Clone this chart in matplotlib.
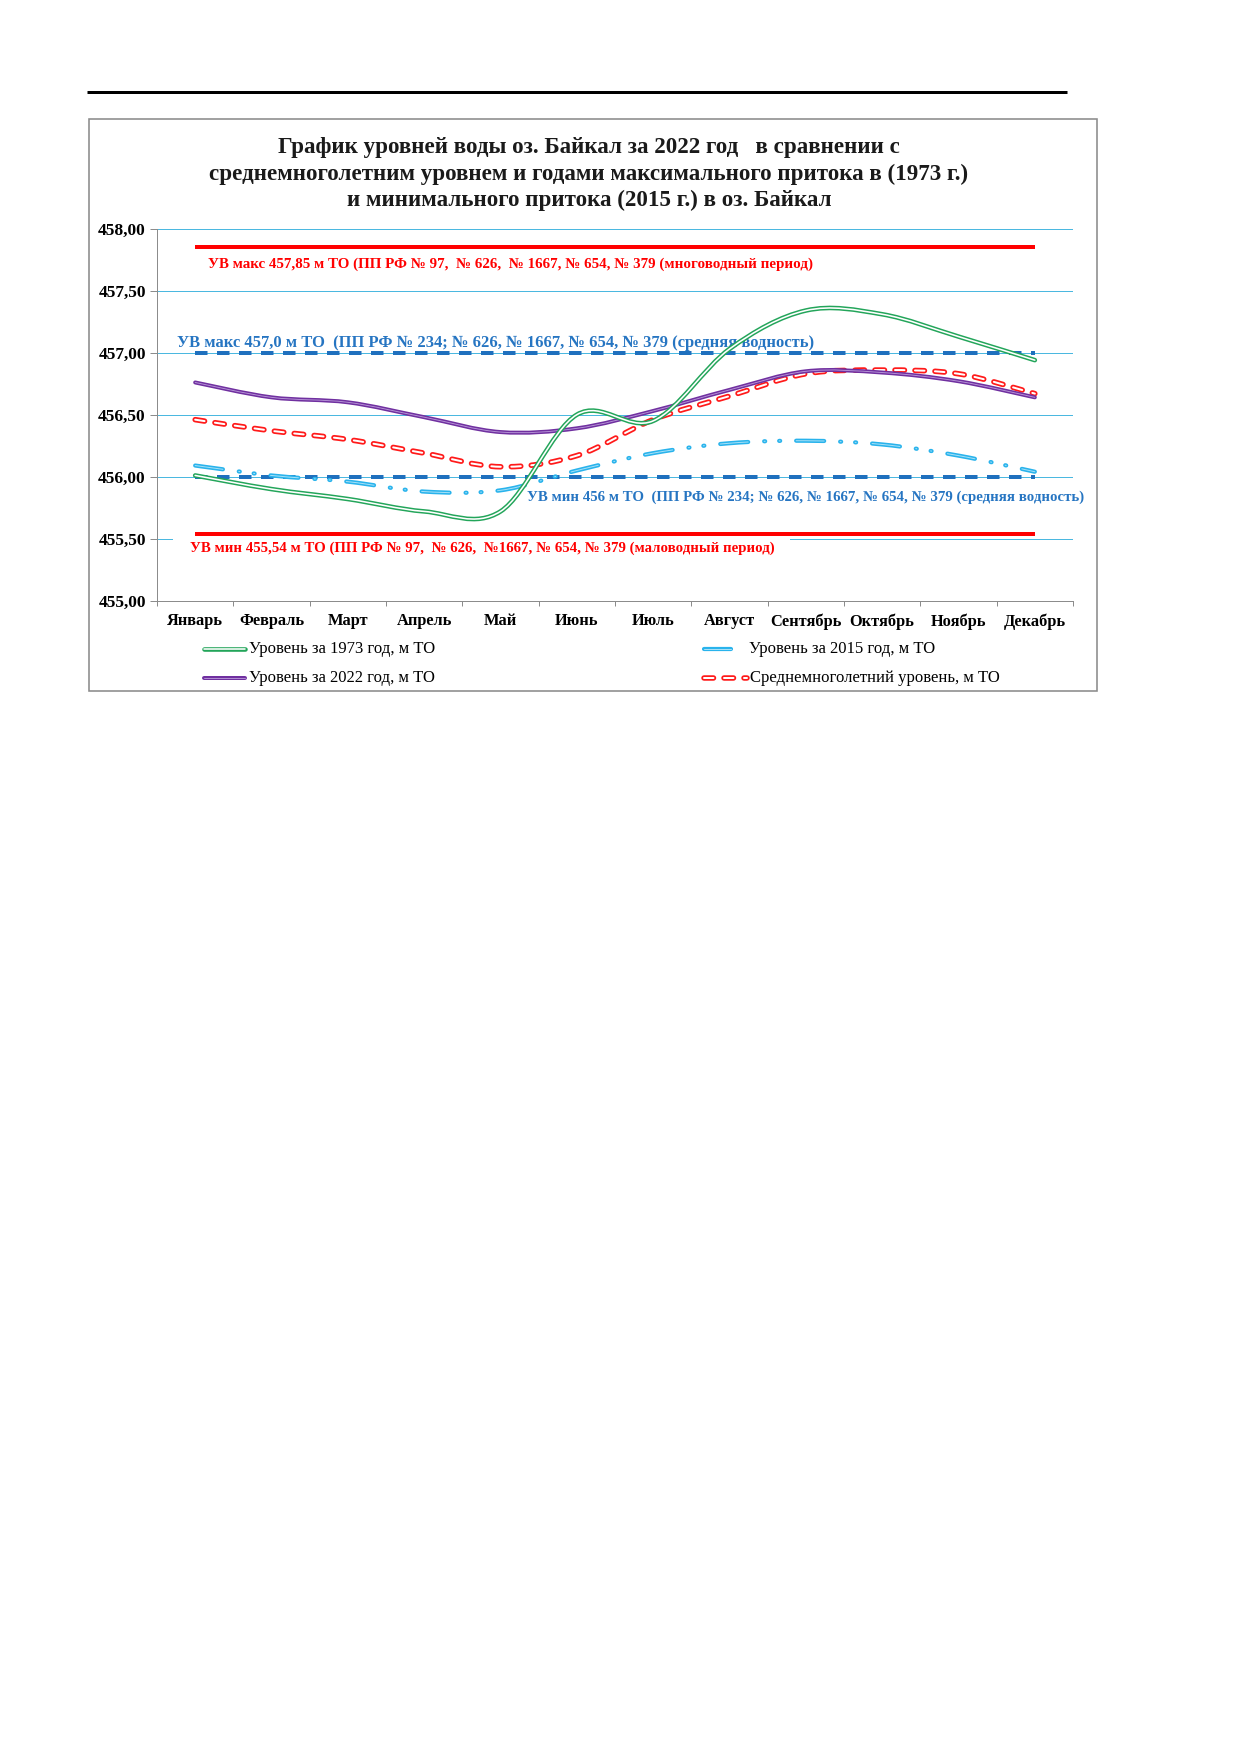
import numpy as np
import matplotlib
matplotlib.use("Agg")
import matplotlib.pyplot as plt
from matplotlib.path import Path
from matplotlib.patches import PathPatch, Rectangle
from matplotlib.lines import Line2D
from matplotlib.ticker import FuncFormatter, MultipleLocator, FixedLocator

plt.rcParams["font.family"] = ["Liberation Serif", "DejaVu Serif"]
plt.rcParams["lines.scale_dashes"] = False

# ---------------- data ----------------
months = ["Январь", "Февраль", "Март", "Апрель", "Май", "Июнь", "Июль",
          "Август", "Сентябрь", "Октябрь", "Ноябрь", "Декабрь"]
lvl_1973 = [456.01, 455.90, 455.82, 455.72, 455.72, 456.50, 456.45,
            457.03, 457.34, 457.31, 457.13, 456.94]
lvl_2015 = [456.09, 456.01, 455.96, 455.88, 455.89, 456.05, 456.19,
            456.27, 456.29, 456.26, 456.17, 456.04]
lvl_2022 = [456.76, 456.64, 456.60, 456.48, 456.36, 456.39, 456.53,
            456.70, 456.85, 456.84, 456.77, 456.64]
lvl_avg = [456.46, 456.37, 456.30, 456.19, 456.08, 456.17, 456.46,
           456.65, 456.83, 456.86, 456.83, 456.67]

uv_max_high = 457.85   # многоводный период
uv_max_mid = 457.0     # средняя водность
uv_min_mid = 456.0
uv_min_low = 455.54    # маловодный период

title = ("График уровней воды оз. Байкал за 2022 год   в сравнении с\n"
         "среднемноголетним уровнем и годами максимального притока в (1973 г.)\n"
         "и минимального притока (2015 г.) в оз. Байкал")
lab_max_high = "УВ макс 457,85 м ТО (ПП РФ № 97,  № 626,  № 1667, № 654, № 379 (многоводный период)"
lab_max_mid = "УВ макс 457,0 м ТО  (ПП РФ № 234; № 626, № 1667, № 654, № 379 (средняя водность)"
lab_min_mid = "УВ мин 456 м ТО  (ПП РФ № 234; № 626, № 1667, № 654, № 379 (средняя водность)"
lab_min_low = "УВ мин 455,54 м ТО (ПП РФ № 97,  № 626,  №1667, № 654, № 379 (маловодный период)"
leg_1973 = "Уровень за 1973 год, м ТО"
leg_2015 = "Уровень за 2015 год, м ТО"
leg_2022 = "Уровень за 2022 год, м ТО"
leg_avg = "Среднемноголетний уровень, м ТО"

# ---------------- styles ----------------
PX = 0.72  # points per pixel at dpi 100
green = '#23A55A'
purple = '#7030A0'
red = '#FF0000'
cyan = '#29B3EC'
dblue = '#1F70BE'
tblue = '#2675C2'
grid_c = '#4BB8E0'
axis_c = '#8C8C8C'

dash_avg = (0, (9.5 * PX, 10.5 * PX))
dash_2015 = (0, (28 * PX, 16 * PX, 1 * PX, 14 * PX, 1 * PX, 16 * PX))
dash_ref = (0, (12.5 * PX, 9.5 * PX))


def smooth_path(xs, ys):
    # excel-like smoothed line: cubic bezier segments through the points
    n = len(xs)
    verts = [(xs[0], ys[0])]
    codes = [Path.MOVETO]
    for i in range(n - 1):
        x0, y0 = xs[i], ys[i]
        x1, y1 = xs[i + 1], ys[i + 1]
        xm, ym = (xs[i - 1], ys[i - 1]) if i > 0 else (x0, y0)
        xp, yp = (xs[i + 2], ys[i + 2]) if i + 2 < n else (x1, y1)
        verts += [(x0 + (x1 - xm) / 6., y0 + (y1 - ym) / 6.),
                  (x1 - (xp - x0) / 6., y1 - (yp - y0) / 6.),
                  (x1, y1)]
        codes += [Path.CURVE4] * 3
    return Path(verts, codes)


def add_curve(ax, ys, color, lw, ls='solid', inner=None, inner_lw=0, z=4):
    path = smooth_path(np.arange(len(ys), dtype=float), np.asarray(ys, float))
    p = PathPatch(path, fill=False, edgecolor=color, lw=lw * PX,
                  linestyle=ls, capstyle='round', joinstyle='round', zorder=z)
    ax.add_patch(p)
    if inner is not None:
        q = PathPatch(path, fill=False, edgecolor=inner, lw=inner_lw * PX,
                      linestyle=ls, capstyle='round', joinstyle='round', zorder=z + 0.1)
        ax.add_patch(q)


fig = plt.figure(figsize=(12.4, 17.54), dpi=100)

# overlay in pixel coords for page decorations
ov = fig.add_axes([0, 0, 1, 1])
ov.set_xlim(0, 1240)
ov.set_ylim(1754, 0)
ov.axis('off')

ov.plot([87, 1067], [91.5, 91.5], color='black', lw=3 * PX, solid_capstyle='butt')
ov.add_patch(Rectangle((89, 119), 1008, 572, fill=False, edgecolor=axis_c, lw=1.6 * PX))
ov.text(589, 137, title, ha='center', va='top', fontsize=16.6, fontweight='bold',
        linespacing=1.33, color='#1a1a1a')

# ---------------- main axes ----------------
L, R, T, B = 157, 1073, 228.7, 600.7
ax = fig.add_axes([L / 1240, 1 - B / 1754, (R - L) / 1240, (B - T) / 1754])
ax.patch.set_alpha(0)
ax.set_xlim(-0.5, 11.5)
ax.set_ylim(455, 458)
ax.set_axisbelow(True)
ax.yaxis.set_major_locator(MultipleLocator(0.5))
ax.yaxis.set_major_formatter(FuncFormatter(lambda v, p: ("%.2f" % v).replace('.', ',')))
ax.grid(axis='y', color=grid_c, lw=1.0 * PX)
ax.set_xticks(range(12))
ax.set_xticklabels(months)
ax.xaxis.set_minor_locator(FixedLocator(np.arange(-0.5, 12, 1)))
ax.tick_params(axis='x', which='major', length=0, pad=9, labelsize=11.8)
ax.tick_params(axis='x', which='minor', length=5 * PX, width=1 * PX, color=axis_c)
ax.tick_params(axis='y', length=7 * PX, width=1 * PX, color=axis_c, pad=3, labelsize=12.5)
for lab in ax.get_xticklabels() + ax.get_yticklabels():
    lab.set_fontweight('bold')
for s in ['top', 'right']:
    ax.spines[s].set_visible(False)
for s in ['left', 'bottom']:
    ax.spines[s].set_color(axis_c)
    ax.spines[s].set_linewidth(1 * PX)

# white box behind lower label
ax.add_patch(Rectangle((-0.29, 455.31), 8.08, 0.215, facecolor='white',
                       edgecolor='none', zorder=1.5, clip_on=False))

# reference levels
ax.plot([0, 11], [uv_max_high, uv_max_high], color=red, lw=4 * PX, zorder=3,
        solid_capstyle='butt')
ax.plot([0, 11], [uv_min_low, uv_min_low], color=red, lw=4 * PX, zorder=3,
        solid_capstyle='butt')
ax.plot([0, 11], [uv_max_mid, uv_max_mid], color=dblue, lw=4 * PX, zorder=3,
        linestyle=dash_ref, dash_capstyle='butt')
ax.plot([0, 11], [uv_min_mid, uv_min_mid], color=dblue, lw=4 * PX, zorder=3,
        linestyle=dash_ref, dash_capstyle='butt')

ax.text(0.168, 457.715, lab_max_high, color=red, fontsize=10.8, fontweight='bold',
        va='center', ha='left', zorder=2)
ax.text(-0.238, 457.08, lab_max_mid, color=tblue, fontsize=11.9, fontweight='bold',
        va='center', ha='left', zorder=2)
ax.text(4.347, 455.836, lab_min_mid, color=tblue, fontsize=10.75, fontweight='bold',
        va='center', ha='left', zorder=2, clip_on=False)
ax.text(-0.068, 455.425, lab_min_low, color=red, fontsize=10.75, fontweight='bold',
        va='center', ha='left', zorder=2)

# series
add_curve(ax, lvl_2015, cyan, 4.2, ls=dash_2015, inner='#A6E0F7', inner_lw=1.0, z=4)
add_curve(ax, lvl_avg, '#FF1A1A', 5.5, ls=dash_avg, inner='white', inner_lw=2.0, z=5)
add_curve(ax, lvl_2022, purple, 4.0, inner='#B896D8', inner_lw=0.9, z=6)
add_curve(ax, lvl_1973, green, 4.6, inner='white', inner_lw=1.6, z=7)

# ---------------- legend ----------------
def leg_sample(x0, x1, y, color, lw, ls='solid', inner=None, inner_lw=0):
    ov.add_line(Line2D([x0, x1], [y, y], color=color, lw=lw * PX, linestyle=ls,
                       solid_capstyle='round', dash_capstyle='round'))
    if inner is not None:
        ov.add_line(Line2D([x0, x1], [y, y], color=inner, lw=inner_lw * PX, linestyle=ls,
                           solid_capstyle='round', dash_capstyle='round'))

leg_fs = 12
leg_sample(204, 245, 649, green, 4.6, inner='white', inner_lw=1.6)
ov.text(249, 649, leg_1973, fontsize=leg_fs, va='center', ha='left')
leg_sample(204, 245, 678, purple, 4.0, inner='#B896D8', inner_lw=0.9)
ov.text(249, 678, leg_2022, fontsize=leg_fs, va='center', ha='left')
leg_sample(704, 731, 649, cyan, 4.2, inner='#A6E0F7', inner_lw=1.0)
ov.text(749, 649, leg_2015, fontsize=leg_fs, va='center', ha='left')
leg_sample(704, 747, 678, '#FF1A1A', 5.5, ls=dash_avg, inner='white', inner_lw=2.0)
ov.text(750, 678, leg_avg, fontsize=leg_fs, va='center', ha='left')

fig.savefig("out.png", dpi=100)
